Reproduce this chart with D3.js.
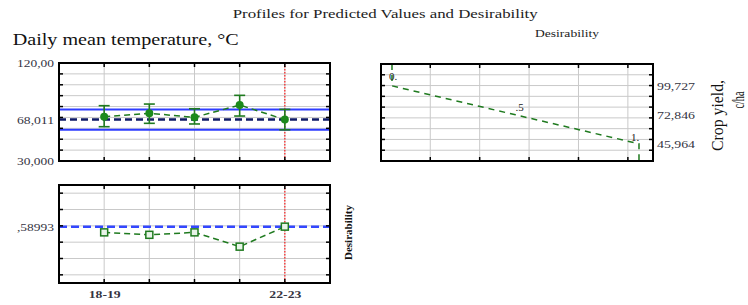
<!DOCTYPE html>
<html><head><meta charset="utf-8">
<script src="https://cdn.jsdelivr.net/npm/d3@7"></script>
<style>body{margin:0;background:#fff}svg{display:block}</style>
</head><body><svg id="c" width="748" height="305"></svg>
<script>
// ---- data ----
const categories = ["18-19", "19-20", "20-21", "21-22", "22-23"];
const shownCategories = ["18-19", "22-23"];
const tempPred = [70.7, 73.8, 70.1, 81.4, 68.011];
const tempLow  = [61.5, 64.6, 64.0, 71.3, 58.6];
const tempHigh = [80.8, 82.3, 78.0, 90.3, 77.4];
const tempCurrent = 68.011;
const tempCI = [58.6, 77.4];
const tempTicks = [30, 68.011, 120];
const tempTickLabels = ["30,000", "68,011", "120,00"];
const desirability = [0.52, 0.49, 0.52, 0.345, 0.58993];
const desCurrent = 0.58993;
const desTicks = [0.58993];
const desTickLabels = [",58993"];
const yieldCurveD = [0, 0, 0.5, 1, 1];
const yieldCurveY = [120, 99.727, 72.846, 45.964, 30];
const yieldTicks = [99.727, 72.846, 45.964];
const yieldTickLabels = ["99,727", "72,846", "45,964"];
const desPointLabels = ["0.", ".5", "1."];
const currentCategory = "22-23";

// ---- layout ----
const svg = d3.select("#c");
const FONT = "'Liberation Serif', 'Times New Roman', serif";
const green = "#1f7a1f", gridC = "#c9c9c9", labC = "#34343f";

const P1 = {x0: 59, x1: 330, y0: 63, y1: 161};
const P2 = {x0: 59, x1: 330, y0: 185, y1: 283};
const P3 = {x0: 381, x1: 653, y0: 64, y1: 161};

const xCat = d3.scalePoint().domain(categories).range([P1.x0, P1.x1]).padding(1);
const yTemp = d3.scaleLinear().domain([30, 120]).range([P1.y1, P1.y0]);
const yDes = d3.scaleLinear().domain([-0.1, 1.1]).range([P2.y1, P2.y0]);
const xD = d3.scaleLinear().domain([-0.0445, 1.0567]).range([P3.x0, P3.x1]);
const yYield = d3.scaleLinear().domain([30, 120]).range([P3.y1, P3.y0]);

const tempGrid = d3.range(40, 111, 10);
const desGrid = [0, 0.2, 0.4, 0.6, 0.8, 1.0];
const dGridX = [0.155, 0.355, 0.555, 0.755, 0.955];

function panelGrid(P, xs, ys, xScale, yScale) {
  const g = svg.append("g");
  g.selectAll(".gx").data(xs).join("line")
    .attr("x1", d => xScale(d)).attr("x2", d => xScale(d))
    .attr("y1", P.y0).attr("y2", P.y1).attr("stroke", gridC).attr("stroke-width", 1);
  g.selectAll(".gy").data(ys).join("line")
    .attr("x1", P.x0).attr("x2", P.x1)
    .attr("y1", d => yScale(d)).attr("y2", d => yScale(d)).attr("stroke", gridC).attr("stroke-width", 1);
  return g;
}
function panelFrame(P, xs, ys, xScale, yScale) {
  const g = svg.append("g");
  const t = 4;
  ys.forEach(d => {
    const y = yScale(d);
    g.append("line").attr("x1", P.x0).attr("x2", P.x0 + t).attr("y1", y).attr("y2", y).attr("stroke", "#000").attr("stroke-width", 1.5);
    g.append("line").attr("x1", P.x1 - t).attr("x2", P.x1).attr("y1", y).attr("y2", y).attr("stroke", "#000").attr("stroke-width", 1.5);
  });
  xs.forEach(d => {
    const x = xScale(d);
    g.append("line").attr("x1", x).attr("x2", x).attr("y1", P.y0).attr("y2", P.y0 + t).attr("stroke", "#000").attr("stroke-width", 1.5);
    g.append("line").attr("x1", x).attr("x2", x).attr("y1", P.y1 - t).attr("y2", P.y1).attr("stroke", "#000").attr("stroke-width", 1.5);
  });
  g.append("rect").attr("x", P.x0).attr("y", P.y0).attr("width", P.x1 - P.x0).attr("height", P.y1 - P.y0)
    .attr("fill", "none").attr("stroke", "#000").attr("stroke-width", 2);
}

// ---- panel 1: temperature ----
panelGrid(P1, categories, tempGrid, xCat, yTemp);
const g1 = svg.append("g");
tempCI.forEach(v => g1.append("line").attr("x1", P1.x0).attr("x2", P1.x1)
  .attr("y1", yTemp(v)).attr("y2", yTemp(v)).attr("stroke", "#2e3cff").attr("stroke-width", 2));
g1.append("line").attr("x1", P1.x0).attr("x2", P1.x1)
  .attr("y1", yTemp(tempCurrent)).attr("y2", yTemp(tempCurrent))
  .attr("stroke", "#0f1a66").attr("stroke-width", 2.5).attr("stroke-dasharray", "7,4");
g1.append("line").attr("x1", xCat(currentCategory)).attr("x2", xCat(currentCategory))
  .attr("y1", P1.y0).attr("y2", P1.y1).attr("stroke", "#ff2020").attr("stroke-width", 1.2).attr("stroke-dasharray", "1.5,1.5");
g1.append("path").datum(categories)
  .attr("d", d3.line().x(d => xCat(d)).y((d, i) => yTemp(tempPred[i])))
  .attr("fill", "none").attr("stroke", green).attr("stroke-width", 1.5).attr("stroke-dasharray", "6,4");
categories.forEach((c, i) => {
  const x = xCat(c);
  g1.append("line").attr("x1", x).attr("x2", x).attr("y1", yTemp(tempLow[i])).attr("y2", yTemp(tempHigh[i]))
    .attr("stroke", green).attr("stroke-width", 1.6);
  [tempLow[i], tempHigh[i]].forEach(v => g1.append("line").attr("x1", x - 5.5).attr("x2", x + 5.5)
    .attr("y1", yTemp(v)).attr("y2", yTemp(v)).attr("stroke", green).attr("stroke-width", 1.6));
  g1.append("circle").attr("cx", x).attr("cy", yTemp(tempPred[i])).attr("r", 4).attr("fill", "#1c8a1c");
});
panelFrame(P1, categories, tempGrid, xCat, yTemp);

// ---- panel 2: desirability profile ----
panelGrid(P2, categories, desGrid, xCat, yDes);
const g2 = svg.append("g");
g2.append("line").attr("x1", P2.x0).attr("x2", P2.x1)
  .attr("y1", yDes(desCurrent)).attr("y2", yDes(desCurrent))
  .attr("stroke", "#3347ff").attr("stroke-width", 2.5).attr("stroke-dasharray", "8,4");
g2.append("line").attr("x1", xCat(currentCategory)).attr("x2", xCat(currentCategory))
  .attr("y1", P2.y0).attr("y2", P2.y1).attr("stroke", "#ff2020").attr("stroke-width", 1.2).attr("stroke-dasharray", "1.5,1.5");
g2.append("path").datum(categories)
  .attr("d", d3.line().x(d => xCat(d)).y((d, i) => yDes(desirability[i])))
  .attr("fill", "none").attr("stroke", green).attr("stroke-width", 1.5).attr("stroke-dasharray", "6,4");
categories.forEach((c, i) => {
  g2.append("rect").attr("x", xCat(c) - 3.5).attr("y", yDes(desirability[i]) - 3.5)
    .attr("width", 7).attr("height", 7).attr("fill", "#e8f4e8").attr("stroke", green).attr("stroke-width", 1.5);
});
panelFrame(P2, categories, desGrid, xCat, yDes);

// ---- panel 3: desirability function for crop yield ----
panelGrid(P3, dGridX, tempGrid, xD, yYield);
const g3 = svg.append("g");
g3.append("path").datum(yieldCurveD)
  .attr("d", d3.line().x(d => xD(d)).y((d, i) => yYield(yieldCurveY[i])))
  .attr("fill", "none").attr("stroke", green).attr("stroke-width", 1.5).attr("stroke-dasharray", "6,5");
[[0, 99.727, -3, -6], [0.5, 72.846, 0, -4], [1, 45.964, -8, -3]].forEach((p, i) => {
  g3.append("text").attr("x", xD(p[0]) + p[2]).attr("y", yYield(p[1]) + p[3])
    .attr("font-family", FONT).attr("font-size", 11).attr("fill", "#222").text(desPointLabels[i]);
});
panelFrame(P3, dGridX, tempGrid, xD, yYield);

// ---- axes ----
function styleAxis(g, size, lengths, weight) {
  g.select(".domain").remove();
  g.selectAll("text").attr("font-family", FONT).attr("font-size", size).attr("fill", labC)
    .attr("font-weight", weight || "normal")
    .attr("textLength", (d, i) => lengths[i]).attr("lengthAdjust", "spacingAndGlyphs");
}
const a1 = svg.append("g").attr("transform", `translate(${P1.x0},0)`)
  .call(d3.axisLeft(yTemp).tickValues(tempTicks).tickFormat((d, i) => tempTickLabels[i]).tickSize(0).tickPadding(5));
styleAxis(a1, 11, [37, 37, 37]);
const a2 = svg.append("g").attr("transform", `translate(${P2.x0},0)`)
  .call(d3.axisLeft(yDes).tickValues(desTicks).tickFormat((d, i) => desTickLabels[i]).tickSize(0).tickPadding(5));
styleAxis(a2, 11, [37]);
const a3 = svg.append("g").attr("transform", `translate(${P3.x1},0)`)
  .call(d3.axisRight(yYield).tickValues(yieldTicks).tickFormat((d, i) => yieldTickLabels[i]).tickSize(0).tickPadding(4));
styleAxis(a3, 10.5, [38, 38, 38]);
const a4 = svg.append("g").attr("transform", `translate(0,${P2.y1})`)
  .call(d3.axisBottom(xCat).tickValues(shownCategories).tickSize(0).tickPadding(7));
styleAxis(a4, 11, [32, 32], "bold");

// ---- titles ----
svg.append("text").attr("x", 232.7).attr("y", 18).attr("font-family", FONT).attr("font-size", 13)
  .attr("fill", "#222").attr("textLength", 305).attr("lengthAdjust", "spacingAndGlyphs")
  .text("Profiles for Predicted Values and Desirability");
svg.append("text").attr("x", 12.7).attr("y", 45).attr("font-family", FONT).attr("font-size", 17)
  .attr("fill", "#111").attr("textLength", 226).attr("lengthAdjust", "spacingAndGlyphs")
  .text("Daily mean temperature, °C");
svg.append("text").attr("x", 535).attr("y", 36.5).attr("font-family", FONT).attr("font-size", 10.5)
  .attr("fill", "#222").attr("textLength", 64).attr("lengthAdjust", "spacingAndGlyphs")
  .text("Desirability");
svg.append("text").attr("transform", "translate(723,115.5) rotate(-90)").attr("text-anchor", "middle")
  .attr("font-family", FONT).attr("font-size", 16).attr("fill", "#111")
  .attr("textLength", 71).attr("lengthAdjust", "spacingAndGlyphs").text("Crop yield,");
svg.append("text").attr("transform", "translate(744,100) rotate(-90)").attr("text-anchor", "middle")
  .attr("font-family", FONT).attr("font-size", 16).attr("fill", "#111")
  .attr("textLength", 17).attr("lengthAdjust", "spacingAndGlyphs").text("c/ha");
svg.append("text").attr("transform", "translate(352,232.5) rotate(-90)").attr("text-anchor", "middle")
  .attr("font-family", FONT).attr("font-size", 10).attr("font-weight", "bold").attr("fill", "#111")
  .attr("textLength", 55).attr("lengthAdjust", "spacingAndGlyphs").text("Desirability");
</script></body></html>
